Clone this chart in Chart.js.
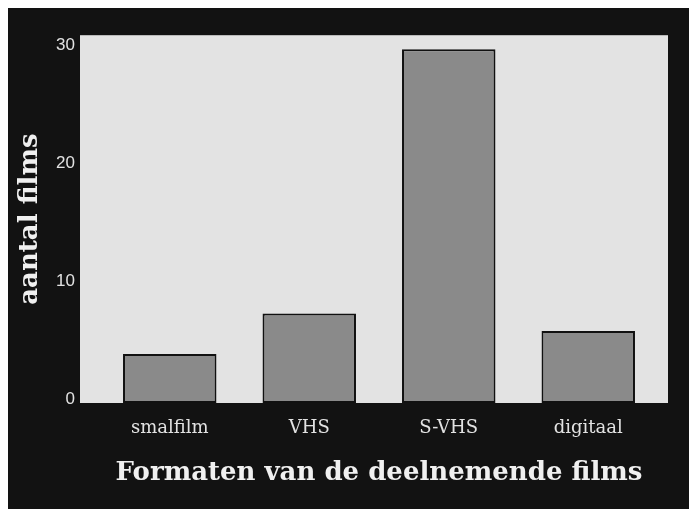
<!DOCTYPE html>
<html>
<head>
<meta charset="utf-8">
<script src="https://cdn.jsdelivr.net/npm/chart.js@4.4.1/dist/chart.umd.min.js"></script>
<style>
  html, body { margin: 0; padding: 0; background: #fff; }
  canvas { display: block; }
</style>
</head>
<body>
<canvas id="filmChart" width="689" height="509"></canvas>
<script>
const formats = ['smalfilm', 'VHS', 'S-VHS', 'digitaal'];
const filmCounts = [4.15, 7.6, 30.0, 6.1];
const yTicks = [0, 10, 20, 30];
const yTitle = 'aantal films';
const xTitle = 'Formaten van de deelnemende films';

const textColor = '#e2e2e2'
const serif = "'DejaVu Serif', 'Liberation Serif', serif"

// black frame with a thin white edge, and the light grey plot field
const backdrop = {
  id: 'backdrop',
  beforeDraw(chart) {
    const ctx = chart.ctx
    const area = chart.chartArea
    ctx.save()
    ctx.fillStyle = '#ffffff'
    ctx.fillRect(0, 0, chart.width, chart.height)
    ctx.fillStyle = '#121212'
    ctx.fillRect(8, 8, chart.width - 8, chart.height - 8)
    ctx.fillStyle = '#e3e3e3'
    ctx.fillRect(area.left - 20, area.top, area.right - area.left + 30, area.bottom - area.top)
    ctx.restore()
  }
}

new Chart(document.getElementById('filmChart'), {
  type: 'bar',
  data: {
    labels: formats,
    datasets: [{
      data: filmCounts,
      backgroundColor: '#8a8a8a',
      borderColor: '#111111',
      borderWidth: 2,
      borderSkipped: false,
      categoryPercentage: 1,
      barPercentage: 0.67
    }]
  },
  options: {
    responsive: false,
    animation: false,
    layout: { padding: { top: 33, right: 31, left: 0, bottom: 0 } },
    plugins: {
      legend: { display: false },
      tooltip: { enabled: false }
    },
    scales: {
      x: {
        grid: { display: false, drawTicks: false },
        border: { display: false },
        ticks: {
          color: textColor,
          padding: 15,
          font: { family: serif, size: 18 }
        },
        title: {
          display: true,
          text: xTitle,
          color: '#f0f0f0',
          font: { family: serif, size: 26, weight: 'bold' },
          padding: { top: 0, bottom: 20 }
        },
        afterFit: (scale) => { scale.height = 106 }
      },
      y: {
        min: 0,
        max: 31.2,
        bounds: 'data',
        grid: { display: false, drawTicks: false },
        border: { display: false },
        ticks: {
          color: textColor,
          padding: 25,
          labelOffset: -4,
          font: { family: "'Liberation Sans', Arial, sans-serif", size: 17 }
        },
        title: {
          display: true,
          text: yTitle,
          color: '#f0f0f0',
          font: { family: serif, size: 26, weight: 'bold' },
          padding: { top: 15, bottom: 0 }
        },
        afterBuildTicks: (scale) => {
          scale.ticks = yTicks.map((v) => ({ value: v }))
        },
        afterFit: (scale) => { scale.width = 100 }
      }
    }
  },
  plugins: [backdrop]
});
</script>
</body>
</html>
